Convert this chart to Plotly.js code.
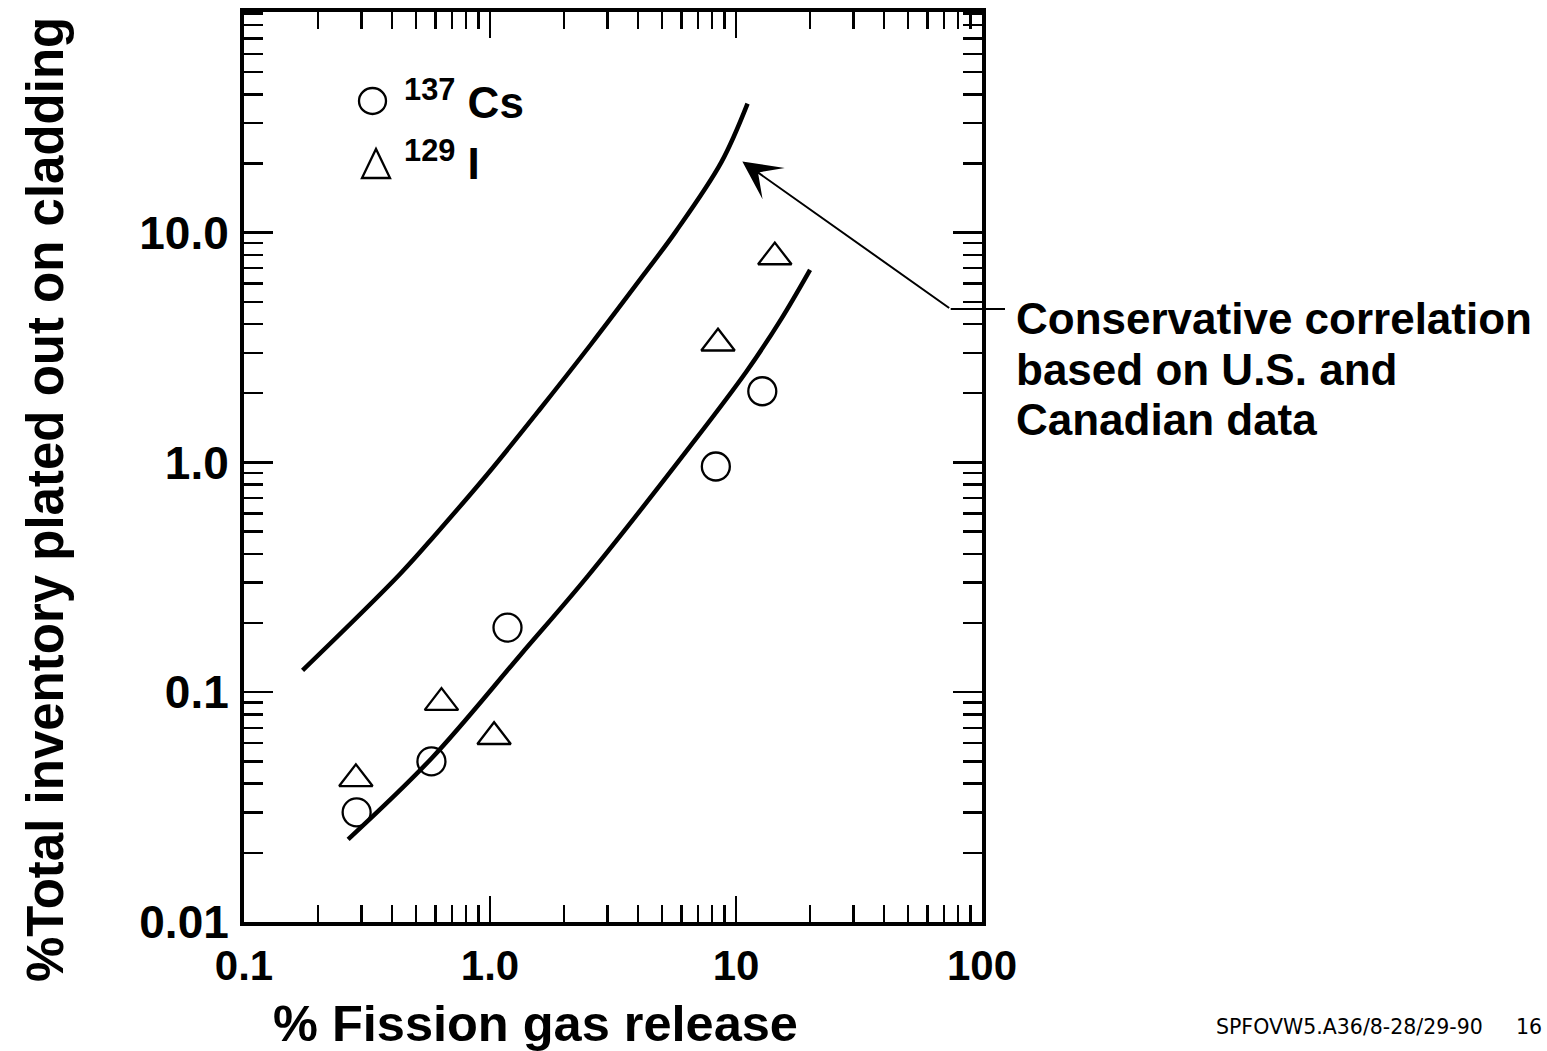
<!DOCTYPE html>
<html><head><meta charset="utf-8">
<script src="https://cdn.plot.ly/plotly-3.0.1.min.js"></script>
<style>html,body{margin:0;padding:0;background:#fff}</style>
</head><body><div id="chart" style="width:1547px;height:1051px"></div>
<script>
// 137Cs data (% fission gas release, % total inventory plated out)
const csRelease = [0.287, 0.578, 1.178, 8.28, 12.79];
const csPlated  = [0.0300, 0.0500, 0.191, 0.960, 2.04];
// 129I data
const iRelease = [0.285, 0.635, 1.039, 8.45, 14.38];
const iPlated  = [0.0420, 0.0901, 0.0640, 3.30, 7.83];
// lower curve through the data
const fitRelease = [0.265, 0.578, 1.335, 2.497, 6.47, 11.03, 15.24, 20.0];
const fitPlated  = [0.0229, 0.0515, 0.146, 0.320, 1.165, 2.488, 4.193, 6.886];
// upper conservative correlation curve
const consRelease = [0.173, 0.431, 0.606, 0.972, 1.575, 2.573, 4.222, 5.689, 8.71, 11.14];
const consPlated  = [0.1245, 0.327, 0.491, 0.884, 1.674, 3.267, 6.575, 10.1, 20.2, 36.4];
// arrow from label to the conservative curve: [release, plated]
const arrowTail = [74.6, 4.65];
const arrowHead = [10.61, 20.4];
// ticks
const xTickVals = [0.1, 1, 10, 100];
const xTickText = ['0.1', '1.0', '10', '100'];
const yTickVals = [0.01, 0.1, 1, 10];
const yTickText = ['0.01', '0.1', '1.0', '10.0'];

const FONT = 'Liberation Sans, Arial, Helvetica, sans-serif';
function minorVals(decades){const v=[];decades.forEach(d=>{for(let k=2;k<=9;k++)v.push(+(k*d).toPrecision(3));});return v;}

const lineStyle = {color:'black', width:4.5, shape:'spline', smoothing:1};
const traces = [
  {x:consRelease, y:consPlated, mode:'lines', line:lineStyle, name:'Conservative correlation', hoverinfo:'skip'},
  {x:fitRelease, y:fitPlated, mode:'lines', line:lineStyle, name:'Fit', hoverinfo:'skip'},
  {x:csRelease, y:csPlated, mode:'markers', name:'137Cs',
   marker:{symbol:'circle-open', size:28, color:'black', line:{width:2.3, color:'black'}}},
  {x:iRelease, y:iPlated, mode:'markers', name:'129I',
   marker:{symbol:'triangle-up-open', size:29, color:'black', line:{width:2.3, color:'black'}}}
];

const axisCommon = {
  type:'log', showline:true, linewidth:4, linecolor:'black', mirror:'ticks',
  ticks:'inside', tickwidth:2.5, tickcolor:'black', showgrid:false, zeroline:false
};
const P = (px)=> (px-244)/738;   // horizontal paper position helper
const Q = (py)=> (922-py)/910;   // vertical paper position helper
const layout = {
  width:1547, height:1051,
  margin:{l:244, r:565, t:12, b:129},
  paper_bgcolor:'white', plot_bgcolor:'white', showlegend:false,
  xaxis: Object.assign({}, axisCommon, {
    range:[-1, 2], tickmode:'array', tickvals:xTickVals, ticktext:xTickText, ticklen:26,
    ticklabelstandoff:4,
    tickfont:{family:FONT, size:42, color:'black', weight:'bold'},
    minor:{tickmode:'array', tickvals:minorVals([0.1,1,10]), ticks:'inside', ticklen:17, tickwidth:2.5, tickcolor:'black', showgrid:false}
  }),
  yaxis: Object.assign({}, axisCommon, {
    range:[-2, 1.96], tickmode:'array', tickvals:yTickVals, ticktext:yTickText, ticklen:29,
    ticklabelstandoff:2,
    tickfont:{family:FONT, size:46, color:'black', weight:'bold'},
    minor:{tickmode:'array', tickvals:minorVals([0.01,0.1,1,10]), ticks:'inside', ticklen:19, tickwidth:2.5, tickcolor:'black', showgrid:false}
  }),
  shapes:[
    // legend symbols
    {type:'circle', xref:'paper', yref:'paper', x0:P(359), x1:P(386), y0:Q(114), y1:Q(88),
     line:{color:'black', width:2.3}},
    {type:'path', xref:'paper', yref:'paper',
     path:'M '+P(362)+' '+Q(178)+' L '+P(390)+' '+Q(178)+' L '+P(376)+' '+Q(149)+' Z',
     line:{color:'black', width:2.3}},
    // horizontal leader from arrow tail to the label
    {type:'line', xref:'paper', yref:'y', x0:(Math.log10(arrowTail[0])+1)/3, x1:P(1005),
     y0:arrowTail[1], y1:arrowTail[1], line:{color:'black', width:2}}
  ],
  annotations:[
    {text:'%Total inventory plated out on cladding', textangle:-90, xref:'paper', yref:'paper',
     x:P(45), y:Q(500), xanchor:'center', yanchor:'middle', showarrow:false,
     font:{family:FONT, size:51, color:'black', weight:'bold'}},
    {text:'% Fission gas release', xref:'paper', yref:'paper',
     x:P(535), y:Q(1023), xanchor:'center', yanchor:'middle', showarrow:false,
     font:{family:FONT, size:50.5, color:'black', weight:'bold'}},
    {text:'<sup>137</sup>&nbsp;Cs', xref:'paper', yref:'paper', x:P(402), y:Q(100),
     xanchor:'left', yanchor:'middle', showarrow:false, font:{family:FONT, size:44, color:'black', weight:'bold'}},
    {text:'<sup>129</sup>&nbsp;I', xref:'paper', yref:'paper', x:P(402), y:Q(161),
     xanchor:'left', yanchor:'middle', showarrow:false, font:{family:FONT, size:44, color:'black', weight:'bold'}},
    {text:'Conservative correlation', xref:'paper', yref:'paper', x:P(1014), y:Q(318),
     xanchor:'left', yanchor:'middle', showarrow:false, font:{family:FONT, size:44, color:'black', weight:'bold'}},
    {text:'based on U.S. and', xref:'paper', yref:'paper', x:P(1014), y:Q(369),
     xanchor:'left', yanchor:'middle', showarrow:false, font:{family:FONT, size:44, color:'black', weight:'bold'}},
    {text:'Canadian data', xref:'paper', yref:'paper', x:P(1014), y:Q(420),
     xanchor:'left', yanchor:'middle', showarrow:false, font:{family:FONT, size:44, color:'black', weight:'bold'}},
    {text:'SPFOVW5.A36/8-28/29-90', xref:'paper', yref:'paper', x:P(1214), y:Q(1027),
     xanchor:'left', yanchor:'middle', showarrow:false, font:{family:'DejaVu Sans, sans-serif', size:20.5, color:'black'}},
    {text:'16', xref:'paper', yref:'paper', x:P(1514), y:Q(1027),
     xanchor:'left', yanchor:'middle', showarrow:false, font:{family:'DejaVu Sans, sans-serif', size:20.5, color:'black'}},
    {text:'', xref:'x', yref:'y', axref:'x', ayref:'y',
     x:Math.log10(arrowHead[0]), y:Math.log10(arrowHead[1]),
     ax:Math.log10(arrowTail[0]), ay:Math.log10(arrowTail[1]),
     showarrow:true, arrowhead:3, arrowsize:3.2, arrowwidth:2, arrowcolor:'black', standoff:0}
  ]
};
Plotly.newPlot('chart', traces, layout, {displayModeBar:false, staticPlot:true});
</script>
</body></html>
